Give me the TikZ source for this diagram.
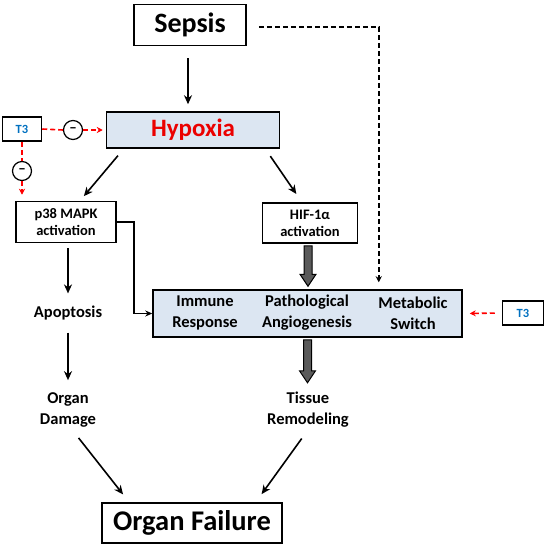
\documentclass[tikz,border=0pt]{standalone}
\usepackage{fontspec}
\setmainfont{Carlito}
\usetikzlibrary{arrows.meta,calc}

\definecolor{boxblue}{RGB}{220,230,242}
\definecolor{hypred}{RGB}{235,0,0}
\definecolor{tblue}{RGB}{0,112,192}
\definecolor{fatgray}{RGB}{90,90,90}

% dicker grauer Pfeil von #1 senkrecht bis auf Hoehe von #2
\newcommand{\fatarrow}[2]{%
    \path (#1 |- #2) coordinate (fa2);
    \draw[line width=1pt, fill=fatgray] ($(#1)+(-4,0)$) -- ($(fa2)+(-4,-12)$) -- ($(fa2)+(-8,-12)$) -- (fa2)
        -- ($(fa2)+(8,-12)$) -- ($(fa2)+(4,-12)$) -- ($(#1)+(4,0)$) -- cycle;}

\begin{document}
\begin{tikzpicture}[x=1pt, y=-1pt, font=\bfseries,
    box/.style={draw, line width=1.5pt, inner sep=0pt, align=center},
    lbl/.style={align=center, font=\fontsize{16.5}{21}\selectfont\bfseries},
    inhib/.style={draw, circle, line width=1.2pt, minimum size=19pt, inner sep=0pt, font=\fontsize{15}{15}\selectfont\bfseries},
    arr/.style={line width=1.6pt, -{Stealth[length=9pt, width=8pt]}},
    dash5/.style={dash pattern=on 5pt off 3pt, line width=1.6pt},
    redarr/.style={red, dash5, -{Stealth[length=6pt, width=6pt]}}]
    \useasboundingbox (0,0) rectangle (550,549);

    % Knoten oben
    \node[box, minimum width=112pt, minimum height=41pt, font=\fontsize{28}{30}\selectfont\bfseries] (sepsis) at (190,25) {Sepsis};
    \node[box, fill=boxblue, text=hypred, minimum width=173pt, minimum height=36pt, font=\fontsize{25}{27}\selectfont\bfseries] (hypoxia) at (193,130) {Hypoxia};
    \node[box, text=tblue, minimum width=39pt, minimum height=24pt, font=\fontsize{12.5}{13}\selectfont\bfseries] (t3a) at (22,129) {T3};
    \node[inhib] (m1) at (73,130) {--};
    \node[inhib] (m2) at (22,171) {--};

    % Aktivierung
    \node[box, minimum width=100pt, minimum height=41pt, font=\fontsize{14.5}{17}\selectfont\bfseries] (p38) at (66,222) {p38 MAPK\\activation};
    \node[box, minimum width=95pt, minimum height=40pt, font=\fontsize{14.5}{17}\selectfont\bfseries] (hif) at (310,223) {HIF-1α\\activation};

    % Antwort
    \node[box, fill=boxblue, minimum width=309pt, minimum height=47pt] (resp) at (307.5,313.5) {};
    \node[lbl] (immune) at (205,313) {Immune\\Response};
    \node[lbl] (patho) at (307,313) {Pathological\\Angiogenesis};
    \node[lbl] (metab) at (413,313) {Metabolic\\Switch};
    \node[box, text=tblue, minimum width=41pt, minimum height=24pt, font=\fontsize{12.5}{13}\selectfont\bfseries] (t3b) at (523,313) {T3};

    % Folgen
    \node[lbl] (apop) at (68,313) {Apoptosis};
    \node[lbl] (damage) at (68,410) {Organ\\Damage};
    \node[lbl] (tissue) at (308,410) {Tissue\\Remodeling};
    \node[box, minimum width=180pt, minimum height=40pt, font=\fontsize{28.5}{30}\selectfont\bfseries] (failure) at (192,523) {Organ Failure};

    % Pfeile
    \draw[arr, shorten <=12pt, shorten >=7pt] ([xshift=-2pt]sepsis.south) -- ([xshift=-5pt]hypoxia.north);
    \draw[arr, shorten <=9pt, shorten >=6pt] ($(hypoxia.south west)+(18,0)$) -- ($(p38.north)+(14,0)$);
    \draw[arr, shorten <=9pt, shorten >=10pt] ($(hypoxia.south east)+(-15,0)$) -- ($(hif.north)+(-8,0)$);
    \draw[line width=1.6pt, -{Stealth[length=7pt, width=6pt]}] (p38.east) -- ++(17,0) |- (resp.west);
    \draw[arr, shorten <=5pt, shorten >=9pt] ([xshift=2pt]p38.south) -- (apop.north);
    \draw[arr, shorten <=9pt, shorten >=9pt] (apop.south) -- (damage.north);
    \draw[arr, shorten <=9pt, shorten >=10pt] ($(damage.south)+(5,0)$) -- ($(failure.north west)+(28,0)$);
    \draw[arr, shorten <=9pt, shorten >=10pt] ($(tissue.south)+(-1,0)$) -- ($(failure.north east)+(-27,0)$);

    % Dicke Pfeile
    \coordinate (f1) at ($(hif.south)+(-2,2)$);
    \coordinate (f2) at ($(resp.north)+(0,-3)$);
    \coordinate (f3) at ($(resp.south)+(0,2)$);
    \coordinate (f4) at ($(tissue.north)+(0,-6)$);
    \fatarrow{f1}{f2}
    \fatarrow{f3}{f4}

    % Gestrichelt
    \draw[dash5, -{Stealth[length=6pt, width=6pt]}, shorten <=12pt, shorten >=7pt] ([yshift=-2pt]sepsis.east) -| ($(resp.north east)+(-84,0)$);
    \draw[red, dash5] (t3a.east) -- (m1.west);
    \draw[redarr, shorten >=3pt] (m1.east) -- (hypoxia.west);
    \draw[red, dash5] (t3a.south) -- (m2.north);
    \draw[redarr, shorten >=6pt] (m2.south) -- (m2.south |- p38.north);
    \draw[redarr, shorten <=7pt, shorten >=7pt] (t3b.west) -- (resp.east);
\end{tikzpicture}
\end{document}
